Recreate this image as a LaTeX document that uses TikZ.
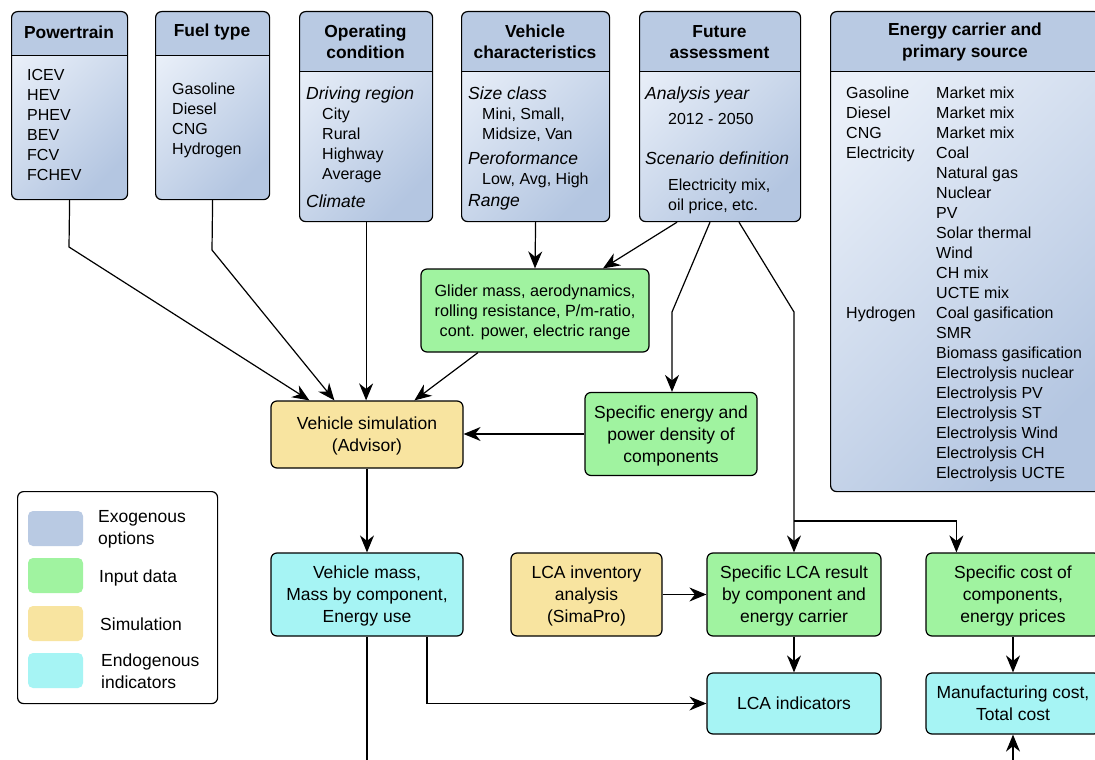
\documentclass[tikz,border=0pt]{standalone}
\usepackage{fontspec}
\setmainfont{Liberation Sans}
\usetikzlibrary{arrows.meta,positioning}
\definecolor{exhead}{HTML}{B9CAE3}
\definecolor{exlight}{HTML}{EAF0F9}
\definecolor{exdark}{HTML}{B4C6E1}
\definecolor{indata}{HTML}{A0F3A0}
\definecolor{simul}{HTML}{F8E4A0}
\definecolor{endog}{HTML}{A6F4F4}
\newcommand{\optgroup}[1]{{\fontsize{17.5}{20}\selectfont\itshape #1}}
\begin{document}
\begin{tikzpicture}[x=1pt,y=-1pt,
  exbox/.style={draw, line width=1.2pt, rounded corners=6pt, anchor=north west, inner sep=0pt,
    top color=exlight, bottom color=exdark, shading angle=45,
    path picture={\fill[exhead, sharp corners] (path picture bounding box.north west) rectangle ([yshift=-#1pt]path picture bounding box.north east);
      \draw[line width=1.2pt, sharp corners] ([yshift=-#1pt]path picture bounding box.north west) -- ([yshift=-#1pt]path picture bounding box.north east);}},
  headtxt/.style={font=\fontsize{17.4}{21.5}\selectfont\bfseries, align=center, inner sep=0pt},
  bodytxt/.style={font=\fontsize{16}{20}\selectfont, align=left, anchor=north west, inner sep=0pt},
  procbox/.style={draw, line width=1.2pt, rounded corners=6pt, align=center, inner sep=0pt, text depth=0pt, font=\fontsize{17.5}{22}\selectfont},
  swatch/.style={rounded corners=5pt, minimum width=55pt, minimum height=35pt, inner sep=0pt},
  lgtxt/.style={font=\fontsize{17.5}{22}\selectfont, align=left, anchor=west, inner sep=0pt},
  flow/.style={line width=1.2pt, -{Stealth[length=17pt, width=14pt, inset=5.5pt]}},
  link/.style={line width=1.2pt}]
\useasboundingbox (0,0) rectangle (1095,760);
\clip (0,0) rectangle (1095,760);
\node[exbox=44, minimum width=116pt, minimum height=188pt] (pt) at (11,11) {};
\node[headtxt] (ptH) at (69,32.5) {Powertrain};
\node[bodytxt] (ptB) at (27,69.5) {ICEV\\HEV\\PHEV\\BEV\\FCV\\FCHEV};
\node[exbox=44, minimum width=114pt, minimum height=188pt] (ft) at (155,11) {};
\node[headtxt] (ftH) at (212,32.5) {Fuel type};
\node[bodytxt] (ftB) at (172,83) {Gasoline\\Diesel\\CNG\\Hydrogen};
\node[exbox=60, minimum width=133pt, minimum height=210pt] (oc) at (299,11) {};
\node[headtxt] (ocH) at (365.5,42) {Operating\\condition};
\node[bodytxt] (ocB) at (306,86.4) {\optgroup{Driving region}\\\hspace*{16pt}City\\\hspace*{16pt}Rural\\\hspace*{16pt}Highway\\\hspace*{16pt}Average\\[8pt]\optgroup{Climate}};
\node[exbox=60, minimum width=148pt, minimum height=210pt] (vc) at (461,11) {};
\node[headtxt] (vcH) at (535,42) {Vehicle\\characteristics};
\node[bodytxt] (vcB) at (468,86.4) {\optgroup{Size class}\\\hspace*{14pt}Mini, Small,\\\hspace*{14pt}Midsize, Van\\[5pt]\optgroup{Peroformance}\\\hspace*{14pt}Low, Avg, High\\[2pt]\optgroup{Range}};
\node[exbox=60, minimum width=161pt, minimum height=210pt] (fa) at (639,11) {};
\node[headtxt] (faH) at (719.5,42) {Future\\assessment};
\node[bodytxt] (faB) at (645,86.4) {\optgroup{Analysis year}\\[5pt]\hspace*{23pt}2012 - 2050\\[20pt]\optgroup{Scenario definition}\\[6pt]\hspace*{23pt}Electricity mix,\\\hspace*{23pt}oil price, etc.};
\node[exbox=60, minimum width=270pt, minimum height=480pt] (ec) at (830,11) {};
\node[headtxt] (ecH) at (965,42) {Energy carrier and\\primary source};
\node[bodytxt] (ecB) at (846,86.5) {Gasoline\\Diesel\\CNG\\Electricity\\[140pt]Hydrogen};
\node[bodytxt] (ecS) at (936,86.5) {Market mix\\Market mix\\Market mix\\Coal\\Natural gas\\Nuclear\\PV\\Solar thermal\\Wind\\CH mix\\UCTE mix\\Coal gasification\\SMR\\Biomass gasification\\Electrolysis nuclear\\Electrolysis PV\\Electrolysis ST\\Electrolysis Wind\\Electrolysis CH\\Electrolysis UCTE};
\node[procbox, fill=indata, minimum width=228pt, minimum height=83pt, font=\fontsize{16.2}{20}\selectfont] (gl) at (535,310.5) {Glider mass, aerodynamics,\\rolling resistance, P/m-ratio,\\cont. power, electric range};
\node[procbox, fill=simul, minimum width=192pt, minimum height=67pt] (vs) at (367,434.5) {Vehicle simulation\\(Advisor)};
\node[procbox, fill=indata, minimum width=172pt, minimum height=83pt] (se) at (671,434) {Specific energy and\\power density of\\components};
\node[procbox, fill=endog, minimum width=192pt, minimum height=83pt] (vm) at (367,594.5) {Vehicle mass,\\Mass by component,\\Energy use};
\node[procbox, fill=simul, minimum width=151pt, minimum height=83pt] (li) at (586.5,594.5) {LCA inventory\\analysis\\(SimaPro)};
\node[procbox, fill=indata, minimum width=174pt, minimum height=83pt] (sl) at (794,594.5) {Specific LCA result\\by component and\\energy carrier};
\node[procbox, fill=indata, minimum width=174pt, minimum height=83pt] (sc) at (1013,594.5) {Specific cost of\\components,\\energy prices};
\node[procbox, fill=endog, minimum width=174pt, minimum height=61pt] (lind) at (794,703.5) {LCA indicators};
\node[procbox, fill=endog, minimum width=174pt, minimum height=61pt] (mc) at (1013,703.5) {Manufacturing cost,\\Total cost};
\node[draw, line width=1.2pt, rounded corners=6pt, fill=white, minimum width=200pt, minimum height=212pt, anchor=north west, inner sep=0pt] (lgd) at (17,491) {};
\node[swatch, fill=exhead] (swex) at (55.5,528.5) {};
\node[lgtxt] (lgex) at (98,529.5) {Exogenous\\options};
\node[swatch, fill=indata] (swin) at (55.5,575.5) {};
\node[lgtxt] (lgin) at (99,577.5) {Input data};
\node[swatch, fill=simul] (swsi) at (55.5,623.5) {};
\node[lgtxt] (lgsi) at (100,624.5) {Simulation};
\node[swatch, fill=endog] (swen) at (55.5,670.5) {};
\node[lgtxt] (lgen) at (101,671.5) {Endogenous\\indicators};
\coordinate (ptbend) at (69,247);
\coordinate (ftbend) at (212,250);
\coordinate (fabend1) at (672,312);
\coordinate (fabend2) at (794,312);
\coordinate (split) at (794,521);
\coordinate (vmout) at (367,775);
\coordinate (mcin) at (1013,775);
\draw[flow] (pt.south) -- (ptbend) -- ([xshift=39pt]vs.north west);
\draw[flow] (ft.south) -- (ftbend) -- ([xshift=64pt]vs.north west);
\draw[flow] (oc.south) -- (oc.south |- vs.north);
\draw[flow] (vc.south) -- (gl.north);
\draw[flow] ([xshift=38pt]fa.south west) -- ([xshift=68pt]gl.north);
\draw[flow] ([xshift=71pt]fa.south west) -- (fabend1) -- (fabend1 |- se.north);
\draw[flow] ([xshift=100pt]fa.south west) -- (fabend2) -- (sl.north);
\draw[flow] (split) -| ([xshift=31pt]sc.north west);
\draw[flow] ([xshift=-57pt]gl.south) -- ([xshift=144pt]vs.north west);
\draw[flow] (se.west) -- (se.west -| vs.east);
\draw[flow] (vs.south) -- (vm.north);
\draw[link] (vm.south) -- (vmout);
\draw[flow] ([xshift=60pt]vm.south) |- (lind.west);
\draw[flow] (li.east) -- (sl.west);
\draw[flow] (sl.south) -- (lind.north);
\draw[flow] (sc.south) -- (mc.north);
\draw[flow] (mcin) -- (mc.south);
\end{tikzpicture}
\end{document}
